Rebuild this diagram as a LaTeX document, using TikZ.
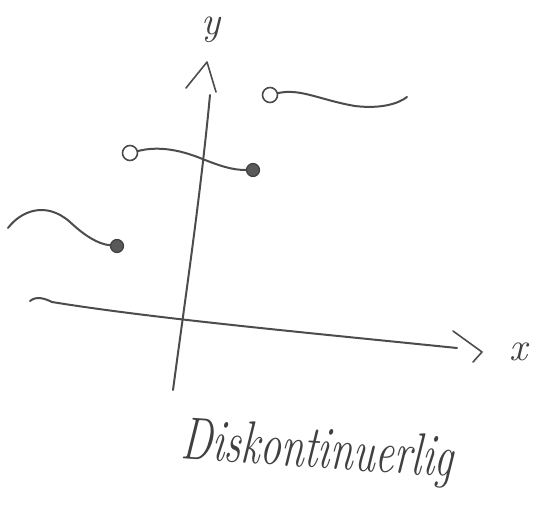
\documentclass[tikz,border=0pt]{standalone}
\usetikzlibrary{calc}
\begin{document}
\begin{tikzpicture}[x=1pt,y=-1pt,
  pen/.style={draw=black!70, line width=2pt, line cap=round, line join=round},
  opendot/.style={circle, draw=black!70, line width=1.6pt, fill=white, minimum size=15pt, inner sep=0pt},
  filldot/.style={circle, draw=black!75, line width=1.2pt, fill=black!65, minimum size=13pt, inner sep=0pt},
  lbl/.style={font=\fontsize{30}{30}\selectfont\itshape, text=black!75, inner sep=0pt}]
\useasboundingbox (0,0) rectangle (538,520);
% axes
\coordinate (ybot) at (173,390);
\coordinate (ytop) at (210,95);
\coordinate (xl) at (30,301);
\coordinate (xr) at (457,348);
\draw[pen] (ybot) .. controls (185,300) and (200,200) .. (ytop);
\draw[pen] (xl) .. controls (36,296) and (44,298) .. (52,302) .. controls (150,318) and (300,332) .. (xr);
% arrowheads
\coordinate (ya) at (207,62);
\coordinate (yl) at (186,88);
\coordinate (yr) at (216,92);
\draw[pen, line width=1.6pt] (yl) -- (ya) -- (yr);
\coordinate (xa) at (482,352);
\coordinate (xt) at (453,331);
\coordinate (xb) at (473,362);
\draw[pen, line width=1.6pt] (xt) -- (xa) -- (xb);
% axis labels
\node[lbl, font=\fontsize{40}{40}\selectfont\itshape] (ylab) at (211,30) {y};
\node[lbl, font=\fontsize{40}{40}\selectfont\itshape] (xlab) at (518,352) {x};
% left curve
\node[filldot] (d1) at (117,246) {};
\coordinate (c1s) at (8,228);
\draw[pen] (c1s) .. controls (20,212) and (45,200) .. (70,222) .. controls (85,236) and (98,244) .. (d1);
% middle curve
\node[opendot] (o2) at (130,153) {};
\node[filldot] (d2) at (253,170) {};
\draw[pen] (o2) .. controls (150,148) and (170,146) .. (200,158) .. controls (220,166) and (232,170) .. (d2);
% right curve
\node[opendot] (o3) at (270,95) {};
\coordinate (c3e) at (407,97);
\draw[pen] (o3) .. controls (300,88) and (320,100) .. (355,106) .. controls (380,109) and (398,104) .. (c3e);
% caption
\node[lbl, rotate=-4, anchor=base west] (cap) at (180,458) {\scalebox{1.4}[2.0]{Diskontinuerlig}};
\end{tikzpicture}
\end{document}
